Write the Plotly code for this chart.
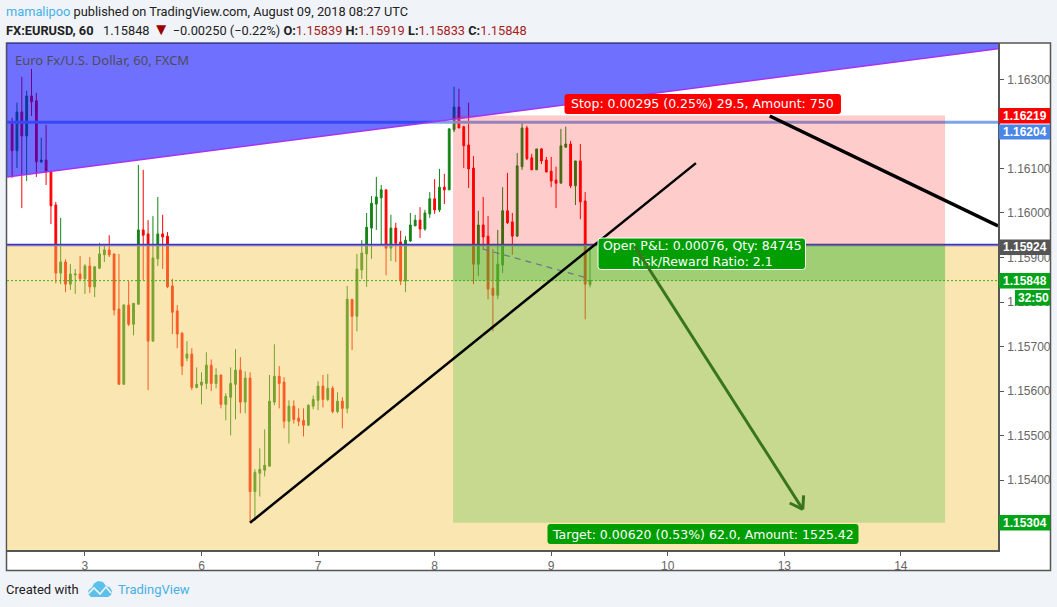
import plotly.graph_objects as go

opens = [1.16200,1.16140,1.16227,1.16173,1.16263,1.16252,1.16115,1.16119,1.16092,1.16018,
1.15865,1.15890,1.15840,1.15861,1.15863,1.15852,1.15881,1.15834,1.15876,1.15906,
1.15917,1.15908,1.15784,1.15615,1.15793,1.15750,1.15795,1.15962,1.15953,1.15712,
1.15897,1.15953,1.15948,1.15836,1.15780,1.15730,1.15674,1.15683,1.15608,1.15613,
1.15617,1.15658,1.15617,1.15636,1.15570,1.15586,1.15615,1.15647,1.15575,1.15629,
1.15374,1.15415,1.15422,1.15431,1.15575,1.15633,1.15620,1.15532,1.15566,1.15539,
1.15534,1.15523,1.15566,1.15579,1.15611,1.15581,1.15606,1.15554,1.15577,1.15561,
1.15806,1.15768,1.15872,1.15908,1.15966,1.16020,1.16034,1.16052,1.15921,1.15966,
1.15935,1.15847,1.15937,1.15971,1.15984,1.15964,1.15998,1.16032,1.16007,1.16058,
1.16052,1.16187,1.16238,1.16194,1.16153,1.16101,1.15885,1.15973,1.15948,1.15831,
1.15815,1.15883,1.16005,1.15980,1.15948,1.16104,1.16191,1.16124,1.16097,1.16144,
1.16119,1.16094,1.16074,1.16067,1.16148,1.16155,1.16061,1.16117,1.16027,1.15839]
highs = [1.16214,1.16248,1.16306,1.16275,1.16324,1.16270,1.16169,1.16198,1.16095,1.16025,
1.15989,1.15896,1.15885,1.15874,1.15903,1.15885,1.15901,1.15881,1.15932,1.15930,
1.15950,1.15908,1.15908,1.15795,1.15847,1.15797,1.16108,1.16097,1.15984,1.15993,
1.16036,1.15996,1.15957,1.15852,1.15793,1.15732,1.15712,1.15696,1.15653,1.15642,
1.15687,1.15671,1.15651,1.15636,1.15595,1.15653,1.15694,1.15676,1.15644,1.15642,
1.15424,1.15471,1.15514,1.15636,1.15705,1.15656,1.15631,1.15579,1.15579,1.15561,
1.15561,1.15570,1.15590,1.15622,1.15636,1.15638,1.15611,1.15597,1.15586,1.15836,
1.15806,1.15908,1.15939,1.16000,1.16038,1.16081,1.16063,1.16052,1.15996,1.15978,
1.15960,1.15948,1.16000,1.15996,1.16013,1.16007,1.16047,1.16076,1.16099,1.16088,
1.16191,1.16284,1.16279,1.16196,1.16248,1.16128,1.16005,1.16036,1.15993,1.15919,
1.15962,1.16058,1.16090,1.16000,1.16135,1.16203,1.16196,1.16133,1.16144,1.16146,
1.16126,1.16126,1.16104,1.16189,1.16194,1.16162,1.16117,1.16155,1.16047,1.15919]
lows = [1.16079,1.16101,1.16011,1.16072,1.16218,1.16081,1.16112,1.16063,1.15975,1.15842,
1.15840,1.15822,1.15827,1.15818,1.15849,1.15818,1.15820,1.15811,1.15874,1.15890,
1.15901,1.15770,1.15615,1.15615,1.15746,1.15725,1.15795,1.15849,1.15602,1.15712,
1.15881,1.15874,1.15831,1.15728,1.15696,1.15636,1.15667,1.15602,1.15606,1.15570,
1.15604,1.15600,1.15606,1.15561,1.15534,1.15500,1.15536,1.15550,1.15550,1.15304,
1.15309,1.15363,1.15408,1.15431,1.15568,1.15561,1.15516,1.15482,1.15527,1.15521,
1.15498,1.15523,1.15559,1.15557,1.15563,1.15577,1.15550,1.15550,1.15516,1.15550,
1.15692,1.15734,1.15852,1.15834,1.15897,1.15962,1.15928,1.15860,1.15892,1.15890,
1.15838,1.15822,1.15935,1.15971,1.15944,1.15960,1.15989,1.15998,1.16002,1.16020,
1.16052,1.16182,1.16191,1.16101,1.16056,1.15840,1.15858,1.15917,1.15806,1.15734,
1.15806,1.15865,1.15975,1.15906,1.15946,1.16097,1.16119,1.16097,1.16097,1.16110,
1.16092,1.16058,1.16011,1.16067,1.16146,1.16056,1.16018,1.15986,1.15761,1.15833]
closes = [1.16140,1.16227,1.16173,1.16263,1.16250,1.16115,1.16119,1.16092,1.16016,1.15865,
1.15890,1.15840,1.15863,1.15863,1.15852,1.15881,1.15834,1.15879,1.15908,1.15917,
1.15906,1.15782,1.15615,1.15793,1.15750,1.15797,1.15962,1.15950,1.15712,1.15899,
1.15953,1.15946,1.15834,1.15777,1.15728,1.15656,1.15683,1.15608,1.15615,1.15620,
1.15658,1.15617,1.15636,1.15570,1.15588,1.15617,1.15647,1.15575,1.15629,1.15374,
1.15417,1.15424,1.15433,1.15577,1.15633,1.15617,1.15532,1.15566,1.15536,1.15532,
1.15523,1.15568,1.15581,1.15611,1.15581,1.15606,1.15554,1.15577,1.15561,1.15806,
1.15768,1.15874,1.15910,1.15968,1.16022,1.16036,1.16052,1.15921,1.15966,1.15932,
1.15847,1.15939,1.15973,1.15984,1.15964,1.16000,1.16032,1.16007,1.16058,1.16052,
1.16189,1.16238,1.16191,1.16151,1.16099,1.15885,1.15973,1.15946,1.15829,1.15815,
1.15885,1.16005,1.15978,1.15948,1.16106,1.16191,1.16122,1.16097,1.16144,1.16117,
1.16092,1.16072,1.16067,1.16151,1.16155,1.16061,1.16117,1.16025,1.15840,1.15848]

day_labels = ["3", "6", "7", "8", "9", "10", "13", "14"]
day_bars = [15, 39, 63, 87, 111, 135, 159, 183]
price_ticks = [1.154, 1.155, 1.156, 1.157, 1.158, 1.159, 1.160, 1.161, 1.163]

stop_price, entry_price, now_price, target_price, resist_price = 1.16219, 1.15928, 1.15848, 1.15304, 1.16204
X0, X1, Y0, Y1 = -1.05, 203.0, 1.152427, 1.16382
pos_x0, pos_x1 = 90.8, 192.1

FONT = "Roboto"
AXIS_FONT = "Liberation Sans"
LABEL_FONT = "DejaVu Sans"
BG = "#f0f3f8"
W, H = 1057, 607
L, R, T, B = 7, 998, 43, 550

def px(x): return (x - L) / (R - L)
def py(y): return (B - y) / (B - T)

def rrect(x0, y0, x1, y1, r=3):
    pts = [("M", x0 + r, y0), ("L", x1 - r, y0), ("Q", x1, y0, x1, y0 + r), ("L", x1, y1 - r),
           ("Q", x1, y1, x1 - r, y1), ("L", x0 + r, y1), ("Q", x0, y1, x0, y1 - r), ("L", x0, y0 + r),
           ("Q", x0, y0, x0 + r, y0)]
    out = []
    for p in pts:
        c = p[0]
        v = p[1:]
        s = " ".join(f"{px(v[i]):.5f},{py(v[i+1]):.5f}" for i in range(0, len(v), 2))
        out.append(c + s)
    return " ".join(out) + " Z"

def poly(points):
    return "M" + " L".join(f"{px(a):.5f},{py(b):.5f}" for a, b in points) + " Z"

fig = go.Figure(go.Candlestick(
    x=list(range(len(opens))), open=opens, high=highs, low=lows, close=closes,
    increasing=dict(line=dict(color="#148414", width=1), fillcolor="#148414"),
    decreasing=dict(line=dict(color="#ff0000", width=1), fillcolor="#ff0000"),
    whiskerwidth=0, hoverinfo="skip", showlegend=False))

shapes = []
def hline(p, color, width, dash="solid"):
    shapes.append(dict(type="line", xref="x", yref="y", x0=X0, x1=X1, y0=p, y1=p, layer="above",
                       line=dict(color=color, width=width, dash=dash)))
def zone(x0, x1, y0, y1, color):
    shapes.append(dict(type="rect", xref="x", yref="y", x0=x0, x1=x1, y0=y0, y1=y1, layer="above",
                       fillcolor=color, line=dict(width=0)))
def seg(x0, y0, x1, y1, color, width, dash="solid"):
    shapes.append(dict(type="line", xref="x", yref="y", x0=x0, x1=x1, y0=y0, y1=y1, layer="above",
                       line=dict(color=color, width=width, dash=dash)))
def box(x0, y0, x1, y1, color, border=None, r=3):
    shapes.append(dict(type="path", xref="paper", yref="paper", path=rrect(x0, y0, x1, y1, r), layer="above",
                       fillcolor=color, line=dict(color=border or color, width=1 if border else 0)))

shapes.append(dict(type="rect", xref="paper", yref="paper", x0=px(6.5), x1=px(1050.5), y0=py(570.5), y1=py(43),
                   layer="below", fillcolor="white", line=dict(color="#555555", width=1.5)))

hline(resist_price, "#7ca4e8", 3)
hline(entry_price, "#3434e0", 2.5)
shapes.append(dict(type="path", xref="x", yref="y", layer="above", fillcolor="rgba(0,0,255,0.56)", line=dict(width=0),
                   path=f"M{X0},{Y1} L{X1},{Y1} L{X1},1.16369 L{X0},1.16081 Z"))
zone(X0, X1, Y0, entry_price, "rgba(242,200,80,0.45)")
zone(pos_x0, pos_x1, entry_price, stop_price, "rgba(255,0,0,0.2)")
zone(pos_x0, pos_x1, target_price, entry_price, "rgba(0,165,15,0.2)")
zone(pos_x0, pos_x1, now_price, entry_price, "rgba(0,165,15,0.2)")
seg(X0, 1.16081, X1, 1.16369, "#a632f2", 1.5)
hline(now_price, "#3cb01c", 1, "2px,2px")
seg(96.95, 1.15919, 118.4, 1.15854, "#6f7488", 1.2, "6px,5px")
seg(49.0, 1.15304, 140.8, 1.16112, "#000000", 2.5)
seg(156.0, 1.16218, 203.0, 1.15971, "#000000", 3.5)

tags = [("1.16219", 108, 123.5, "#ff0000", 999), ("1.16204", 124.5, 139.5, "#4a86e8", 999),
        ("1.15924", 239.5, 255, "#555555", 999), ("1.15848", 273, 288.5, "#00a416", 999),
        ("32:50", 290, 305.5, "#00a416", 1015), ("1.15304", 515, 530.5, "#00a416", 999)]
for t, y0, y1, c, x0 in tags:
    shapes.append(dict(type="rect", xref="paper", yref="paper", x0=px(x0), x1=px(1050), y0=py(y1), y1=py(y0),
                       layer="above", fillcolor=c, line=dict(width=0)))

box(564.5, 94, 841, 114, "#ff0000")
box(598, 238, 805.5, 269.5, "#009e00", "#ffffff")
box(547.5, 524, 858.5, 544, "#009e00")

shapes.append(dict(type="path", xref="paper", yref="paper", layer="above", fillcolor="#5cc1ea", line=dict(width=0),
                   path=poly([(88, 594), (88.5, 590), (92, 587.5), (94, 583.5), (98, 581), (103, 582), (106, 586),
                              (110, 587.5), (112, 591), (111, 595), (108, 597), (91, 597)])))
shapes.append(dict(type="path", xref="paper", yref="paper", layer="above", line=dict(color=BG, width=1.6), fillcolor="rgba(0,0,0,0)",
                   path="M" + " L".join(f"{px(a):.5f},{py(b):.5f}" for a, b in [(88, 594), (94, 588), (100, 594), (106, 587), (111, 593)])))

ann = []
def text(x, y, s, size=13, color="#222222", anchor="left", family=FONT):
    ann.append(dict(xref="paper", yref="paper", x=px(x), y=py(y), text=s, showarrow=False, xanchor=anchor, yanchor="middle",
                    font=dict(family=family, size=size, color=color), align=anchor, borderpad=0, borderwidth=0))

RED = "#a81c1c"
text(6, 11.5, '<span style="color:#45b1e6">mamalipoo</span> published on TradingView.com, August 09, 2018 08:27 UTC', 12.8)
text(6, 29, f'<b>FX:EURUSD, 60</b>\u00a0\u00a0\u00a01.15848 <span style="color:#990000;font-size:17px">▼</span> −0.00250 (−0.22%) '
              f'<b>O:</b><span style="color:{RED}">1.15839</span> <b>H:</b><span style="color:{RED}">1.15919</span> '
              f'<b>L:</b><span style="color:{RED}">1.15833</span> <b>C:</b><span style="color:{RED}">1.15848</span>', 12.8)
text(15, 60.5, "Euro Fx/U.S. Dollar, 60, FXCM", 13, "#4c4c58", family="Noto Sans")
text(6, 589.5, "Created with", 13, "#222222")
text(118, 589.5, "TradingView", 13, "#45b1e6")
for t, y0, y1, c, x0 in tags:
    text((x0 + 1050) / 2 + (0 if x0 == 999 else 0.5), (y0 + y1) / 2, f"<b>{t}</b>", 12, "#ffffff", "center", AXIS_FONT)
text(702.5, 104, "Stop: 0.00295 (0.25%) 29.5, Amount: 750", 12.5, "#ffffff", "center", LABEL_FONT)
text(703, 534, "Target: 0.00620 (0.53%) 62.0, Amount: 1525.42", 12.5, "#ffffff", "center", LABEL_FONT)
ann.append(dict(xref="paper", yref="paper", x=px(702.5), y=py(253.5), showarrow=False, xanchor="center", yanchor="middle",
                text="Open P&L: 0.00076, Qty: 84745<br>Risk/Reward Ratio: 2.1", align="center", borderpad=0, borderwidth=0,
                font=dict(family=LABEL_FONT, size=12.5, color="#ffffff")))

def arrow(x, y, ax, ay):
    ann.append(dict(xref="x", yref="y", axref="x", ayref="y", x=x, y=y, ax=ax, ay=ay, text=" ", showarrow=True,
                    arrowhead=0, arrowwidth=3, arrowcolor="#38761d", standoff=0, startstandoff=0,
                    font=dict(size=1)))
arrow(162.8, 1.15334, 127.9, 1.15930)
arrow(162.8, 1.15334, 159.8, 1.15350)
arrow(162.8, 1.15334, 163.0, 1.15370)

fig.update_layout(
    width=W, height=H, autosize=False, paper_bgcolor=BG, plot_bgcolor="white",
    margin=dict(l=L, r=W - R, t=T, b=H - B, pad=0, autoexpand=False), showlegend=False, boxgap=0.47,
    font=dict(family=AXIS_FONT, size=11, color="#666666"), shapes=shapes, annotations=ann,
    xaxis=dict(range=[X0, X1], rangeslider=dict(visible=False), tickmode="array", tickvals=day_bars, ticktext=day_labels,
               showgrid=False, zeroline=False, showline=True, linecolor="#555555", linewidth=1.5, automargin=False,
               ticks="outside", ticklen=4, tickcolor="#555555", tickfont=dict(size=12, color="#666666")),
    yaxis=dict(range=[Y0, Y1], side="right", tickmode="array", tickvals=price_ticks, tickformat=".5f", automargin=False,
               showgrid=False, zeroline=False, showline=True, linecolor="#555555", linewidth=1.5,
               ticks="outside", ticklen=4, tickcolor="#555555", tickfont=dict(size=12, color="#666666"), ticklabelstandoff=1),
)
fig.write_html("out.html", config=dict(displayModeBar=False),
               post_script=f"document.body.style.margin='0';document.body.style.background='{BG}';document.body.style.overflow='hidden';")
